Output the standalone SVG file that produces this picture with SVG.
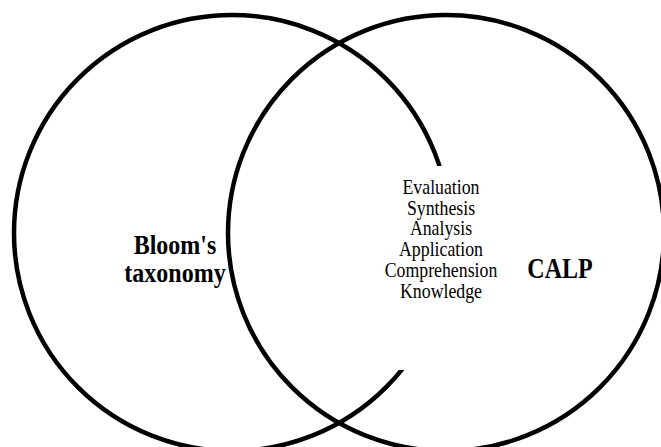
<svg xmlns="http://www.w3.org/2000/svg" width="661" height="447" viewBox="0 0 661 447">
  <style>
    .ring { fill: none; stroke: #000; stroke-width: 4.5; }
    .title { font-weight: bold; font-size: 24px; fill: #000; text-anchor: middle; }
    .level { font-size: 17.8px; fill: #000; text-anchor: middle; }
  </style>
  <rect width="661" height="447" fill="#fff"/>
  <g font-family="'Liberation Serif', 'Times New Roman', serif">
    <g id="blooms-taxonomy">
      <circle class="ring" cx="232" cy="233" r="218"/>
      <text class="title" transform="translate(175 254) scale(1 1.12)">Bloom's</text>
      <text class="title" transform="translate(175 282) scale(1 1.12)" font-size="24.8">taxonomy</text>
    </g>
    <g id="calp">
      <circle class="ring" cx="446" cy="233" r="218"/>
      <text class="title" transform="translate(560 278) scale(1 1.2)" font-size="26">CALP</text>
    </g>
    <g id="overlap">
      <!-- white text box that interrupts the left ring -->
      <rect x="380" y="166" width="128" height="204" fill="#fff"/>
      <text class="level" transform="translate(441 194) scale(1 1.12)">Evaluation</text>
      <text class="level" transform="translate(441 214.7) scale(1 1.12)">Synthesis</text>
      <text class="level" transform="translate(441 235.4) scale(1 1.12)">Analysis</text>
      <text class="level" transform="translate(441 256.1) scale(1 1.12)">Application</text>
      <text class="level" transform="translate(441 276.8) scale(1 1.12)">Comprehension</text>
      <text class="level" transform="translate(441 297.5) scale(1 1.12)">Knowledge</text>
    </g>
  </g>
</svg>
